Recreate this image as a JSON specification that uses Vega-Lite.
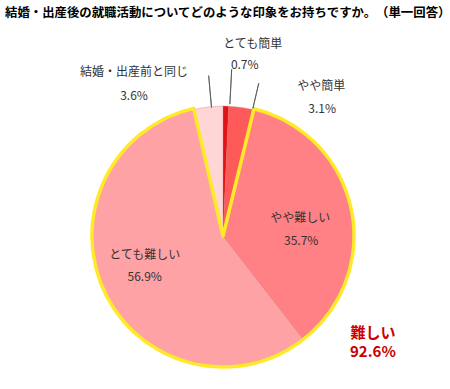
{
  "$schema": "https://vega.github.io/schema/vega-lite/v6.json",
  "width": 440,
  "height": 300,
  "autosize": {"type": "none"},
  "padding": {"left": 3, "top": 86, "right": 7, "bottom": 3},
  "background": "white",
  "config": {"view": {"stroke": null}, "font": "Noto Sans CJK JP"},
  "title": {
    "text": "結婚・出産後の就職活動についてどのような印象をお持ちですか。　（単一回答）",
    "anchor": "start",
    "frame": "group",
    "font": "Noto Sans CJK JP",
    "fontSize": 12.4,
    "fontWeight": "bold",
    "color": "#000000",
    "offset": 19,
    "dx": 2
  },
  "data": {
    "values": [
      {"cat": "とても簡単", "value": 0.007, "o": 1, "grp": "易"},
      {"cat": "やや簡単", "value": 0.031, "o": 2, "grp": "易"},
      {"cat": "やや難しい", "value": 0.357, "o": 3, "grp": "難"},
      {"cat": "とても難しい", "value": 0.569, "o": 4, "grp": "難"},
      {"cat": "結婚・出産前と同じ", "value": 0.036, "o": 5, "grp": "同"}
    ]
  },
  "layer": [
    {
      "encoding": {
        "theta": {"field": "value", "type": "quantitative", "stack": true},
        "order": {"field": "o", "type": "quantitative"}
      },
      "layer": [
        {
          "mark": {"type": "arc", "radius": 130, "stroke": "#c86464", "strokeWidth": 0.5, "strokeOpacity": 0.6},
          "encoding": {
            "color": {
              "field": "cat",
              "type": "nominal",
              "scale": {
                "domain": ["とても簡単", "やや簡単", "やや難しい", "とても難しい", "結婚・出産前と同じ"],
                "range": ["#e01414", "#ff5a5a", "#ff8085", "#ffa2a5", "#ffd6d6"]
              },
              "legend": null
            }
          }
        },
        {
          "transform": [
            {"aggregate": [{"op": "sum", "field": "value", "as": "value"}, {"op": "min", "field": "o", "as": "o"}], "groupby": ["grp"]}
          ],
          "mark": {"type": "arc", "radius": 131, "fillOpacity": 0, "strokeWidth": 3.5, "strokeJoin": "round"},
          "encoding": {
            "stroke": {"condition": {"test": "datum.grp === '難'", "value": "#ffea2a"}, "value": "transparent"}
          }
        },
        {
          "mark": {"type": "text", "radius": 170, "dx": 26, "dy": -22, "fontSize": 12, "color": "#333333"},
          "encoding": {"text": {"condition": {"test": "datum.cat === 'とても簡単'", "field": "cat"}, "value": ""}}
        },
        {
          "mark": {"type": "text", "radius": 170, "dx": 18, "dy": -1, "fontSize": 12, "color": "#333333"},
          "encoding": {"text": {"condition": {"test": "datum.cat === 'とても簡単'", "field": "value", "format": ".1%"}, "value": ""}}
        },
        {
          "mark": {"type": "text", "radius": 150, "dx": 77, "dy": -1.5, "fontSize": 12, "color": "#333333"},
          "encoding": {"text": {"condition": {"test": "datum.cat === 'やや簡単'", "field": "cat"}, "value": ""}}
        },
        {
          "mark": {"type": "text", "radius": 150, "dx": 78, "dy": 21.5, "fontSize": 12, "color": "#333333"},
          "encoding": {"text": {"condition": {"test": "datum.cat === 'やや簡単'", "field": "value", "format": ".1%"}, "value": ""}}
        },
        {
          "mark": {"type": "text", "radius": 150, "dx": -72, "dy": -15, "fontSize": 12, "color": "#333333"},
          "encoding": {"text": {"condition": {"test": "datum.cat === '結婚・出産前と同じ'", "field": "cat"}, "value": ""}}
        },
        {
          "mark": {"type": "text", "radius": 150, "dx": -72, "dy": 9, "fontSize": 12, "color": "#333333"},
          "encoding": {"text": {"condition": {"test": "datum.cat === '結婚・出産前と同じ'", "field": "value", "format": ".1%"}, "value": ""}}
        },
        {
          "mark": {"type": "text", "radius": 80, "dx": -1, "dy": -1, "fontSize": 12, "color": "#333333"},
          "encoding": {"text": {"condition": {"test": "datum.cat === 'やや難しい'", "field": "cat"}, "value": ""}}
        },
        {
          "mark": {"type": "text", "radius": 80, "dx": 0, "dy": 22, "fontSize": 12, "color": "#333333"},
          "encoding": {"text": {"condition": {"test": "datum.cat === 'やや難しい'", "field": "value", "format": ".1%"}, "value": ""}}
        },
        {
          "mark": {"type": "text", "radius": 90, "dx": 3, "dy": -20, "fontSize": 12, "color": "#333333"},
          "encoding": {"text": {"condition": {"test": "datum.cat === 'とても難しい'", "field": "cat"}, "value": ""}}
        },
        {
          "mark": {"type": "text", "radius": 90, "dx": 3, "dy": 2, "fontSize": 12, "color": "#333333"},
          "encoding": {"text": {"condition": {"test": "datum.cat === 'とても難しい'", "field": "value", "format": ".1%"}, "value": ""}}
        }
      ]
    },
    {
      "transform": [{"filter": "datum.o === 1"}],
      "mark": {"type": "arc", "theta": 0.052, "theta2": 0.052, "radius": 132, "radius2": 167, "stroke": "#555555", "strokeWidth": 0.8, "fillOpacity": 0},
      "encoding": {}
    },
    {
      "transform": [{"filter": "datum.o === 2"}],
      "mark": {"type": "arc", "theta": 0.23, "theta2": 0.23, "radius": 131, "radius2": 157, "stroke": "#555555", "strokeWidth": 0.8, "fillOpacity": 0},
      "encoding": {}
    },
    {
      "transform": [{"filter": "datum.o === 5"}],
      "mark": {"type": "arc", "theta": 6.194, "theta2": 6.194, "radius": 129, "radius2": 161, "stroke": "#555555", "strokeWidth": 0.8, "fillOpacity": 0},
      "encoding": {}
    },
    {
      "transform": [
        {"filter": "datum.grp === '難'"},
        {"aggregate": [{"op": "sum", "field": "value", "as": "total"}]}
      ],
      "layer": [
        {
          "mark": {"type": "text", "theta": 2.189, "radius": 184, "dy": -9.5, "fontSize": 15, "fontWeight": "bold", "color": "#cc0000"},
          "encoding": {"text": {"value": "難しい"}}
        },
        {
          "mark": {"type": "text", "theta": 2.189, "radius": 184, "dy": 9.5, "fontSize": 15, "fontWeight": "bold", "color": "#cc0000"},
          "encoding": {"text": {"field": "total", "type": "quantitative", "format": ".1%"}}
        }
      ]
    }
  ]
}
